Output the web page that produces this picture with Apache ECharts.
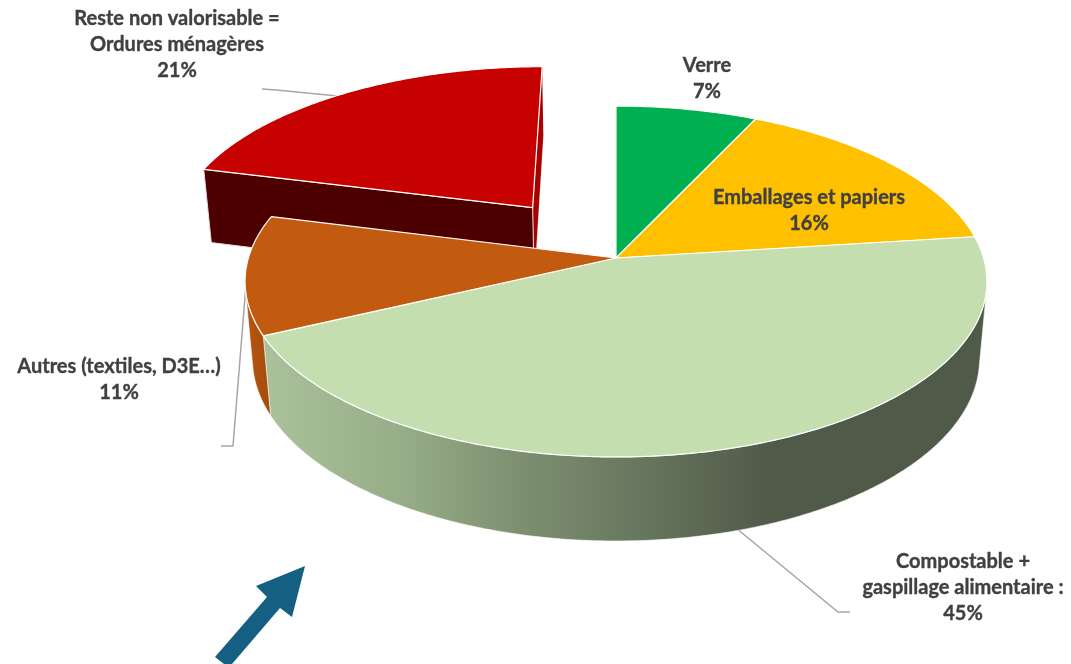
<!DOCTYPE html>
<html><head><meta charset="utf-8">
<style>html,body{margin:0;padding:0;background:#fff}#c{width:1071px;height:664px}</style>
<script src="https://cdn.jsdelivr.net/npm/echarts@6/dist/echarts.min.js"></script>
</head><body><div id="c"></div>
<script>
// ---- data ----
const categories = ['Verre','Emballages et papiers','Compostable + gaspillage alimentaire','Autres (textiles, D3E…)','Reste non valorisable = Ordures ménagères'];
const values = [7,16,45,11,21];
const labelLines = [
  ['Verre'],
  ['Emballages et papiers'],
  ['Compostable +','gaspillage alimentaire :'],
  ['Autres (textiles, D3E…)'],
  ['Reste non valorisable =','Ordures ménagères']
];
// ---- styling / layout ----
const topColors = ['#00b050','#ffc000','#c5deb0','#c25a10','#c70000'];
const explode = [0,0,0,0,0.385];
const labelCenters = [[707,66],[809,198],[963,562],[119,367],[177,19]];
const FONT = 'Lato';
const LH = 26;
// perspective camera for the tilted disc
const cam = {x0:616,y0:258,A:172.3,B:367.6,k:0.134,m:0.02,C:78.4};
function project(u,v,h){
  const w = 1 + cam.k*v + cam.m*h;
  return [cam.x0 + cam.B*u/w, cam.y0 - (cam.A*v - cam.C*h)/w];
}
const total = values.reduce((a,b)=>a+b,0);
function wallFill(i){
  if(i===2) return {type:'linear',x:272,y:0,x2:770,y2:0,global:true,colorStops:[
    {offset:0,color:'#a9c09a'},{offset:0.25,color:'#98ae89'},{offset:0.5,color:'#7d8f70'},{offset:0.7,color:'#6b7b62'},{offset:1,color:'#505a49'}]};
  if(i===3) return {type:'linear',x:245,y:0,x2:272,y2:0,global:true,colorStops:[
    {offset:0,color:'#b8560f'},{offset:1,color:'#a34c0d'}]};
  return '#8a8a8a';
}
function renderItem(params,api){
  const i = params.dataIndex;
  let cum = 0; for(let j=0;j<i;j++) cum += values[j];
  const a0 = cum/total*2*Math.PI, a1 = (cum+api.value(1))/total*2*Math.PI;
  const mid = (a0+a1)/2, e = explode[i];
  const du = e*Math.sin(mid), dv = e*Math.cos(mid);
  const rim = h => { const pts=[]; const n=Math.ceil((a1-a0)/0.01);
    for(let s=0;s<=n;s++){const t=a0+(a1-a0)*s/n; pts.push(project(du+Math.sin(t),dv+Math.cos(t),h));}
    return pts; };
  const topRim = rim(0), botRim = rim(1);
  const base = i===4 ? 0 : 10;
  const apexT = project(du,dv,0), apexB = project(du,dv,1);
  const children = [];
  // outer wall: only the part of the rim that faces the viewer
  const frontT = [], frontB = [];
  for(let s=0;s<topRim.length-1;s++){
    const ex=topRim[s+1][0]-topRim[s][0], ey=topRim[s+1][1]-topRim[s][1];
    const dx=botRim[s][0]-topRim[s][0], dy=botRim[s][1]-topRim[s][1];
    if(ex*dy-ey*dx<0){ frontT.push(topRim[s],topRim[s+1]); frontB.push(botRim[s],botRim[s+1]); }
  }
  if(frontT.length){
    children.push({type:'polygon',z2:base,shape:{points:frontT.concat(frontB.reverse())},
      style:{fill:wallFill(i),stroke:'rgba(255,255,255,0.55)',lineWidth:1}});
  }
  if(e>0){
    children.push({type:'polygon',z2:base+1,shape:{points:[apexT,topRim[topRim.length-1],botRim[botRim.length-1],apexB]},
      style:{fill:'#a80000',stroke:'rgba(255,255,255,0.3)',lineWidth:0.5}});
    children.push({type:'polygon',z2:base+2,shape:{points:[apexT,topRim[0],botRim[0],apexB]},
      style:{fill:'#4d0000',stroke:'#e8dcdc',lineWidth:1}});
  }
  children.push({type:'polygon',z2:base+5,shape:{points:[apexT].concat(topRim)},
    style:{fill:topColors[i],stroke:'#ffffff',lineWidth:1.2,lineJoin:'round'}});
  const lines = labelLines[i].concat([api.value(1)+'%']);
  const c = labelCenters[i];
  lines.forEach((t,k)=>children.push({type:'text',z2:50,style:{
    text:t,x:c[0],y:c[1]+k*LH,align:'center',verticalAlign:'middle',
    font:'bold 20px '+FONT,fill:'#404040',stroke:'#404040',lineWidth:0.35}}));
  return {type:'group',children};
}
const chart = echarts.init(document.getElementById('c'),null,{renderer:'canvas'});
const leader = pts => ({type:'polyline',z:0,shape:{points:pts},style:{fill:'none',stroke:'#a6a6a6',lineWidth:1.5}});
chart.setOption({
  animation:false,
  backgroundColor:'#ffffff',
  graphic:{elements:[
    leader([[262,89],[276,90],[348,97]]),
    leader([[247,272],[233,446],[221,446]]),
    leader([[736,528],[838,612],[850,612]]),
    {type:'polygon',z:0,shape:{points:[[305,566],[292,617],[280,608],[232,664],[224,664],[215,657],[267,597],[256,586]]},
      style:{fill:'#156082'}}
  ]},
  series:[{type:'custom',coordinateSystem:'none',name:'Composition',clip:false,silent:true,
    renderItem,data:values.map((v,i)=>({name:categories[i],value:[i,v]}))}]
});
</script></body></html>
